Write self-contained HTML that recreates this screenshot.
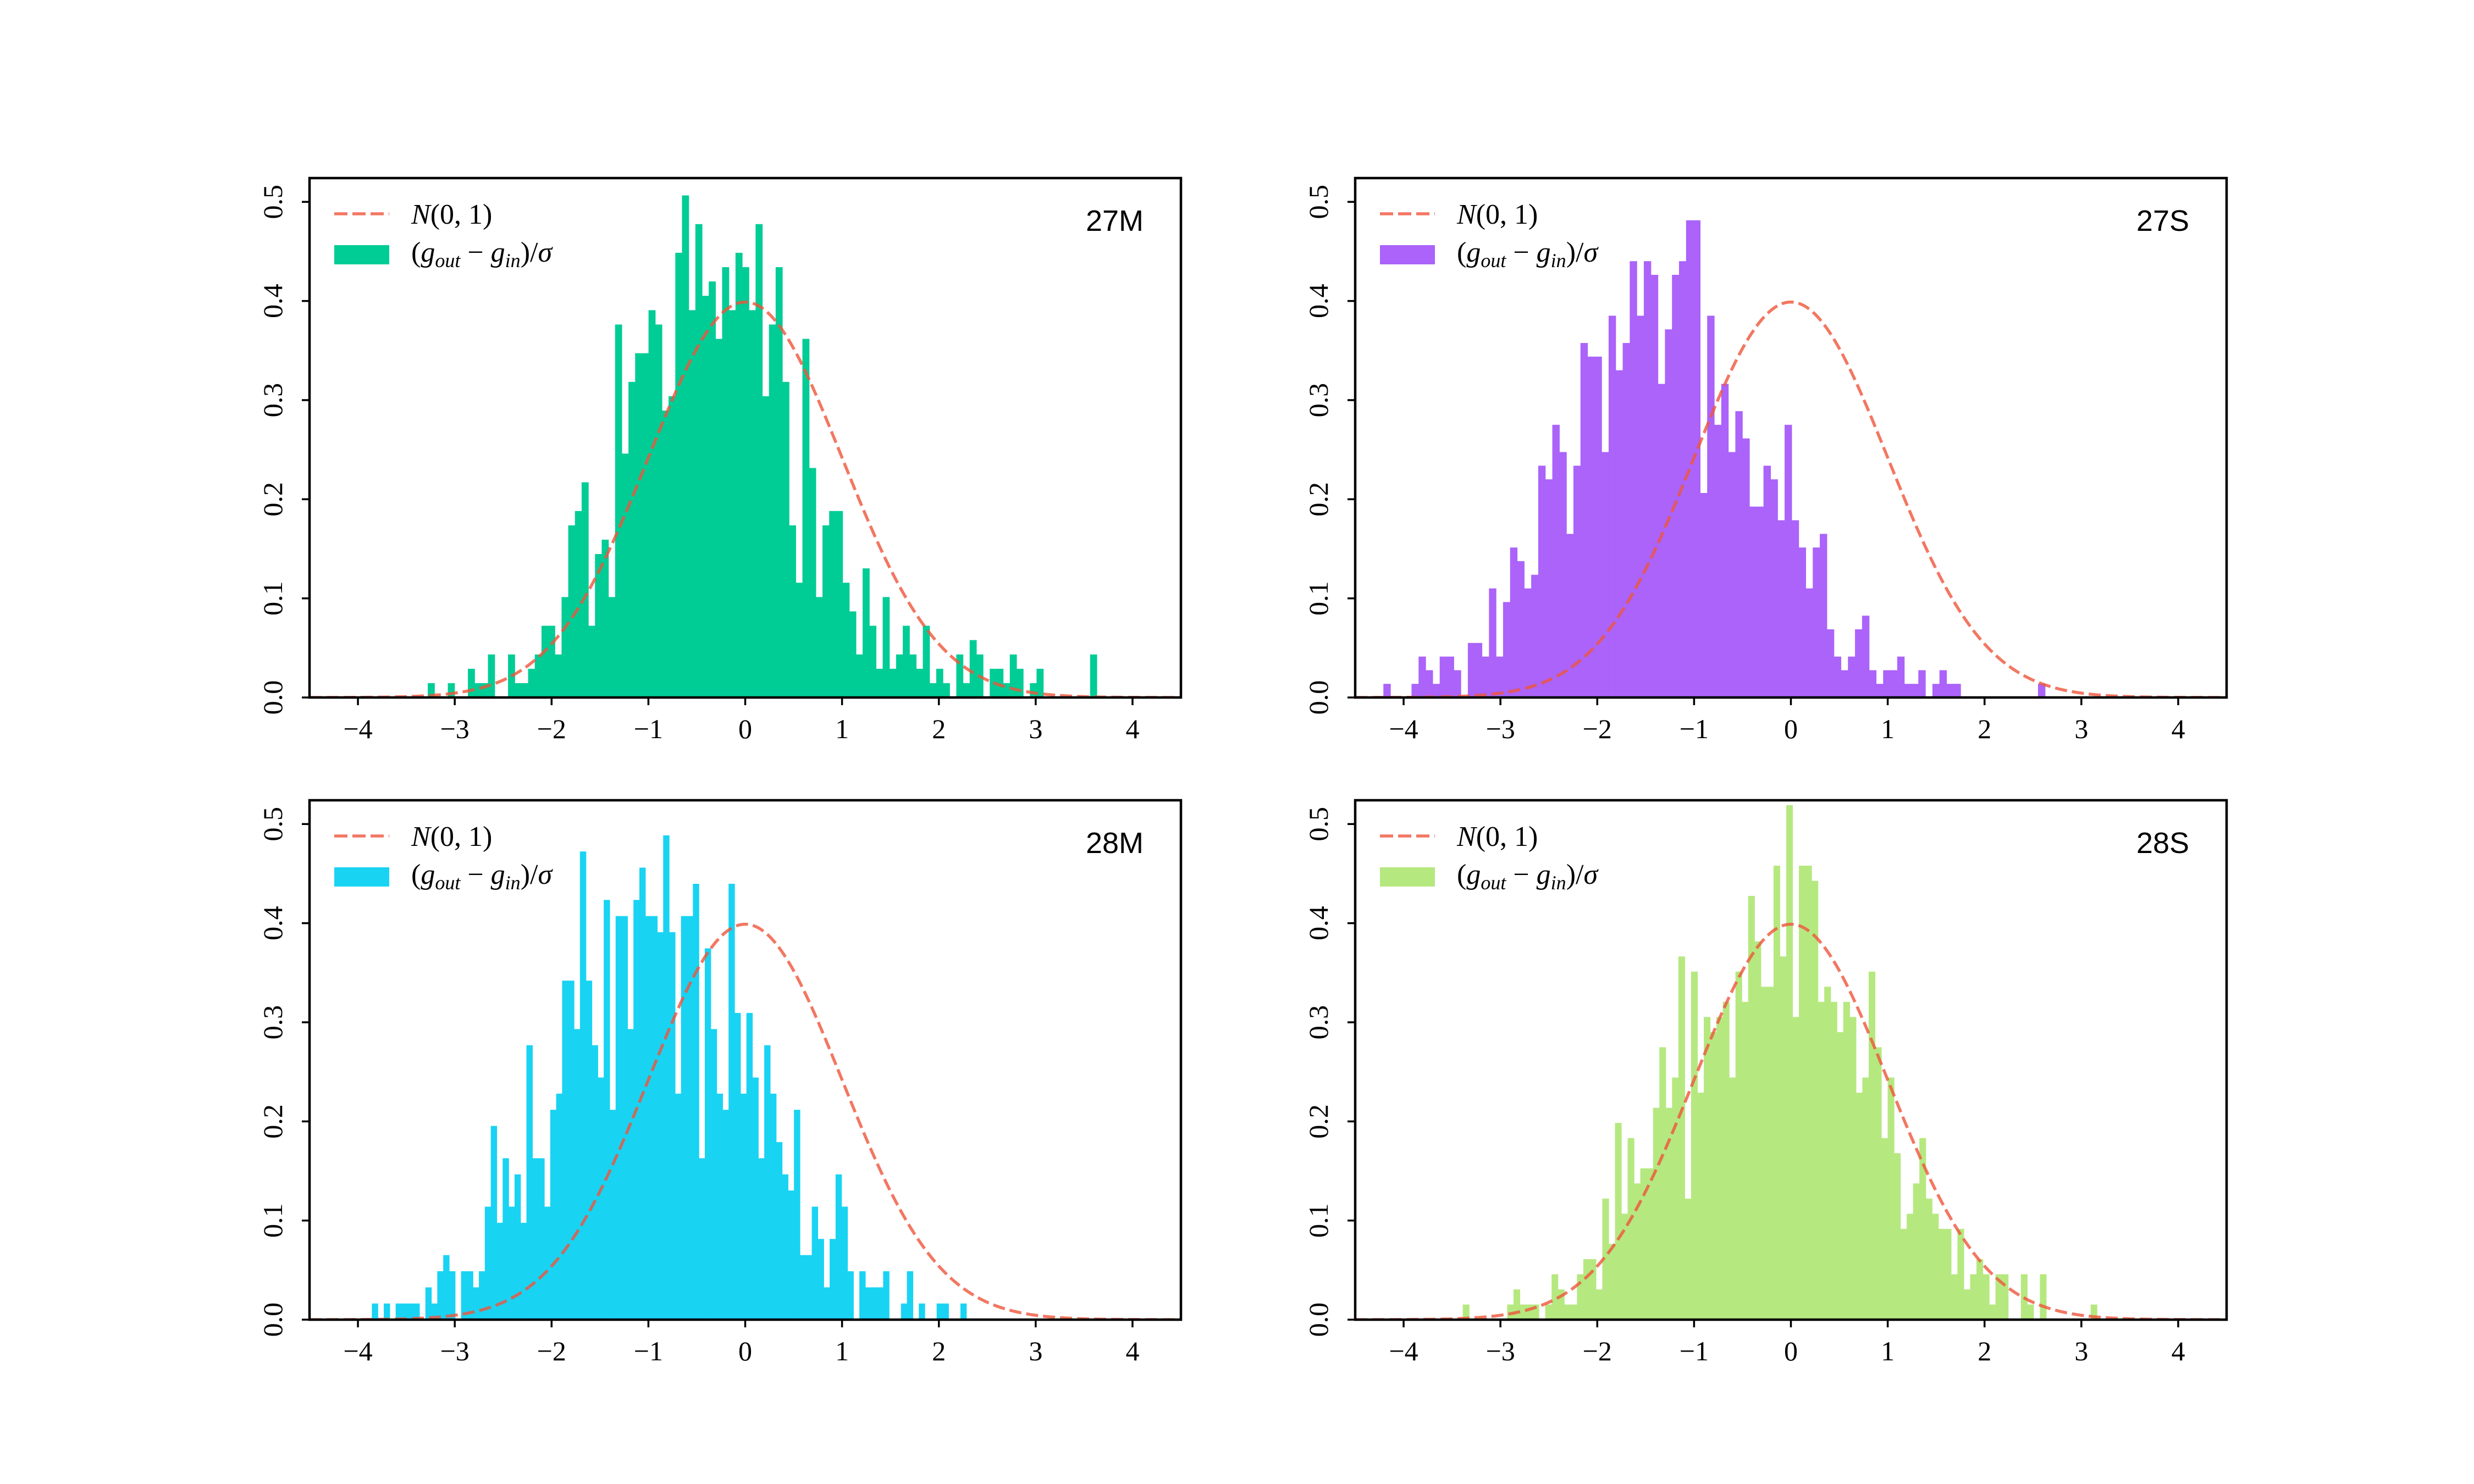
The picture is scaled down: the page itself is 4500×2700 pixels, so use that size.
<!DOCTYPE html>
<html>
<head>
<meta charset="utf-8">
<title>Histograms of (g_out - g_in)/sigma vs N(0,1)</title>
<style>
  html, body { margin: 0; padding: 0; background: #ffffff; }
  #fig { display: block; }
  .tick { font-family: "Liberation Serif", "DejaVu Serif", serif; font-size: 50px; fill: #000; }
  .legend-text { font-family: "Liberation Serif", "DejaVu Serif", serif; font-size: 52px; fill: #000; }
  .it { font-style: italic; }
  .panel-title { font-family: "Liberation Sans", "DejaVu Sans", sans-serif; font-size: 54px; fill: #000; }
</style>
</head>
<body>
<svg id="fig" xmlns="http://www.w3.org/2000/svg" width="4500" height="2700" viewBox="0 0 4500 2700">
  <rect x="0" y="0" width="4500" height="2700" fill="#ffffff"/>
</svg>
<script>
// ---- data (histogram counts per bin, N = 1000 samples each) ----
const panelNames = ["27M", "27S", "28M", "28S"];
const panelColors = ["#00CC96", "#AB63FA", "#19D3F3", "#B6E880"];
const binMin = [-3.279, -4.209, -3.856, -3.389];
const binWidth = [0.0691, 0.0727, 0.0614, 0.0655];
const sampleCount = [1000, 1000, 1000, 1000];
const counts27M = [
  1,0,0,1,0,0,2,1,1,3,
  0,0,3,1,1,2,3,5,5,3,
  7,12,13,15,5,10,11,7,26,17,
  22,24,24,27,26,20,21,31,35,27,
  33,28,29,25,30,27,31,30,27,33,
  21,26,30,22,12,8,25,16,7,12,
  13,13,8,6,3,9,5,2,7,2,
  3,5,3,2,5,1,2,1,0,3,
  1,4,3,0,2,2,1,3,2,0,
  1,2,0,0,0,0,0,0,0,3
];
const counts27S = [
  1,0,0,0,1,3,2,1,3,3,
  2,0,4,4,3,8,3,7,11,10,
  8,9,17,16,20,18,12,17,26,25,
  25,18,28,24,26,32,28,32,31,23,
  27,31,32,35,35,15,28,20,23,18,
  21,19,14,14,17,16,13,20,13,11,
  8,11,12,5,3,2,3,5,6,2,
  1,2,2,3,1,1,2,0,1,2,
  1,1,0,0,0,0,0,0,0,0,
  0,0,0,1
];
const counts28M = [
  1,0,1,0,1,1,1,1,0,2,
  1,3,4,3,0,3,3,2,3,7,
  12,6,10,7,9,6,17,10,10,7,
  13,14,21,21,18,29,21,17,15,26,
  13,25,25,18,26,28,25,25,24,30,
  24,14,25,25,27,10,23,18,14,13,
  27,19,14,19,15,10,17,14,11,9,
  8,13,4,4,7,5,2,5,9,7,
  3,0,3,2,2,2,3,0,0,1,
  3,0,1,0,0,1,1,0,0,1
];
const counts28S = [
  1,0,0,0,0,0,0,1,2,1,
  1,1,0,1,3,2,1,1,3,4,
  4,2,8,5,13,7,12,9,10,10,
  14,18,14,16,24,8,23,15,20,19,
  20,21,16,23,21,28,25,22,22,30,
  24,34,20,30,30,29,21,22,21,19,
  21,20,15,16,23,18,12,16,11,6,
  7,9,12,8,7,6,6,3,6,2,
  3,4,3,1,3,3,0,0,3,1,
  0,3,0,0,0,0,0,0,0,1
];
const allCounts = [counts27M, counts27S, counts28M, counts28S];
const xTickValues = [-4, -3, -2, -1, 0, 1, 2, 3, 4];
const xTickLabels = ["\u22124", "\u22123", "\u22122", "\u22121", "0", "1", "2", "3", "4"];
const yTickValues = [0, 0.1, 0.2, 0.3, 0.4, 0.5];
const yTickLabels = ["0.0", "0.1", "0.2", "0.3", "0.4", "0.5"];
const xLimits = [-4.5, 4.5];
const yLimits = [0, 0.524];

// ---- layout ----
const NS = "http://www.w3.org/2000/svg";
const svg = document.getElementById("fig");
const axW = 1585, axH = 945;
const axLeft = [563, 2465, 563, 2465];
const axTop = [324, 324, 1456, 1456];
const curveColor = "#EF553B";

function mk(tag, attrs, parent) {
  const el = document.createElementNS(NS, tag);
  for (const k in attrs) el.setAttribute(k, attrs[k]);
  (parent || svg).appendChild(el);
  return el;
}

for (let p = 0; p < 4; p++) {
  const L = axLeft[p], T = axTop[p];
  const sx = v => L + (v - xLimits[0]) / (xLimits[1] - xLimits[0]) * axW;
  const sy = v => T + axH - (v - yLimits[0]) / (yLimits[1] - yLimits[0]) * axH;
  const slug = panelNames[p].toLowerCase();

  const g = mk("g", {});
  
  

  const clip = mk("clipPath", { id: "clip" + p }, g);
  mk("rect", { x: L, y: T, width: axW, height: axH }, clip);

  const barsG = mk("g", { "clip-path": "url(#clip" + p + ")" }, g);
  
  
  const cts = allCounts[p];
  const w = binWidth[p];
  const unit = 1 / (sampleCount[p] * w);
  for (let i = 0; i < cts.length; i++) {
    if (cts[i] <= 0) continue;
    const x0 = sx(binMin[p] + i * w), x1 = sx(binMin[p] + (i + 1) * w);
    const y0 = sy(cts[i] * unit);
    const r = mk("rect", { x: x0, y: y0, width: (x1 - x0) + 0.6, height: sy(0) - y0, fill: panelColors[p] }, barsG);
    
    
  }

  let d = "";
  const nPts = 400;
  for (let k = 0; k <= nPts; k++) {
    const xv = xLimits[0] + (xLimits[1] - xLimits[0]) * k / nPts;
    const yv = Math.exp(-xv * xv / 2) / Math.sqrt(2 * Math.PI);
    d += (k ? "L" : "M") + sx(xv).toFixed(2) + "," + sy(yv).toFixed(2);
  }
  const curve = mk("path", { d: d, fill: "none", stroke: curveColor, "stroke-opacity": 0.8, "stroke-width": 5.5, "stroke-dasharray": "22 9", "clip-path": "url(#clip" + p + ")" }, g);
  
  

  const frame = mk("rect", { x: L, y: T, width: axW, height: axH, fill: "none", stroke: "#000", "stroke-width": 4.5 }, g);
  
  

  for (let i = 0; i < xTickValues.length; i++) {
    const x = sx(xTickValues[i]);
    const tl = mk("line", { x1: x, y1: T + axH, x2: x, y2: T + axH + 14, stroke: "#000", "stroke-width": 3.5 }, g);
    
    
    const t = mk("text", { x: x, y: T + axH + 74, "text-anchor": "middle", class: "tick" }, g);
    t.textContent = xTickLabels[i];
    
    
  }
  for (let i = 0; i < yTickValues.length; i++) {
    const y = sy(yTickValues[i]);
    const tl = mk("line", { x1: L - 14, y1: y, x2: L, y2: y, stroke: "#000", "stroke-width": 3.5 }, g);
    
    
    const tx = L - 50;
    const t = mk("text", { x: tx, y: y, "text-anchor": "middle", class: "tick", transform: "rotate(-90 " + tx + " " + y + ")" }, g);
    t.textContent = yTickLabels[i];
    
    
  }

  const lg = mk("g", {}, g);
  
  
  const ll = mk("line", { x1: L + 45, y1: T + 65, x2: L + 145, y2: T + 65, stroke: curveColor, "stroke-opacity": 0.8, "stroke-width": 5.5, "stroke-dasharray": "24 9" }, lg);
  
  
  const t1 = mk("text", { x: L + 185, y: T + 83, class: "legend-text" }, lg);
  
  
  const n1 = mk("tspan", { class: "it" }, t1); n1.textContent = "N";
  const n2 = mk("tspan", {}, t1); n2.textContent = "(0, 1)";
  const pr = mk("rect", { x: L + 45, y: T + 122, width: 100, height: 35, fill: panelColors[p] }, lg);
  
  
  const t2 = mk("text", { x: L + 185, y: T + 152, class: "legend-text" }, lg);
  
  
  const parts = [["(", 0, 0], ["g", 0, 1], ["out", 1, 1], [" \u2212 ", 0, 0], ["g", 0, 1], ["in", 1, 1], [")/", 0, 0], ["\u03C3", 0, 1]];
  let prevSub = 0;
  for (const [s, sub, it] of parts) {
    const attrs = {};
    if (sub && !prevSub) attrs.dy = 10;
    if (!sub && prevSub) attrs.dy = -10;
    if (sub) attrs["font-size"] = "36px";
    if (it) attrs["class"] = "it";
    const ts = mk("tspan", attrs, t2);
    ts.textContent = s;
    prevSub = sub;
  }

  const ttl = mk("text", { x: L + axW - 68, y: T + 96, "text-anchor": "end", class: "panel-title" }, g);
  ttl.textContent = panelNames[p];
  
  
}
</script>
</body>
</html>
